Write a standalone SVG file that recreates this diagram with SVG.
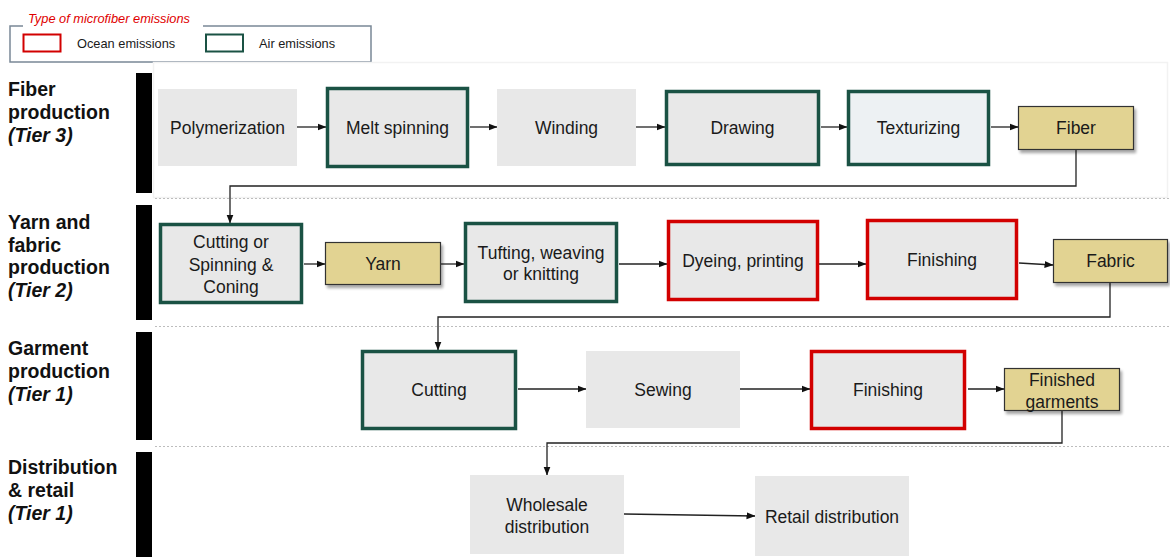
<svg xmlns="http://www.w3.org/2000/svg" width="1170" height="557" viewBox="0 0 1170 557">
<defs>
<marker id="ah" markerWidth="9" markerHeight="8" refX="8.5" refY="4" orient="auto" markerUnits="userSpaceOnUse">
<path d="M0,0.5 L9,4 L0,7.5 z" fill="#111"/>
</marker>
<filter id="sh" x="-10%" y="-10%" width="130%" height="140%">
<feGaussianBlur in="SourceAlpha" stdDeviation="1.5"/>
<feOffset dx="2" dy="3" result="b"/>
<feComponentTransfer><feFuncA type="linear" slope="0.35"/></feComponentTransfer>
<feMerge><feMergeNode/><feMergeNode in="SourceGraphic"/></feMerge>
</filter>
<style>
text{font-family:"Liberation Sans",Arial,sans-serif;fill:#1a1a1a}
.n{font-size:17.5px;text-anchor:middle}
.lbl{font-size:19.5px;font-weight:bold;fill:#111}
.it{font-style:italic}
.plain{fill:#e8e8e8}
.air{fill:#e8e8e8;stroke:#1a5244;stroke-width:3.5}
.ocean{fill:#e8e8e8;stroke:#d20000;stroke-width:3.5}
.tan{fill:#e2d392;stroke:#333;stroke-width:1.2;filter:url(#sh)}
.bar{fill:#000}
.sep{stroke:#bdbdbd;stroke-width:1;stroke-dasharray:2,2}
.c{fill:none;stroke:#222;stroke-width:1.3}
</style>
</defs>
<rect width="1170" height="557" fill="#fff"/>

<g id="legend">
<path d="M23,26 H10 V62 H371 V26 H203" fill="none" stroke="#7a8896" stroke-width="1.5"/>
<text x="28" y="23" font-size="12.8px" font-style="italic" style="fill:#e00000">Type of microfiber emissions</text>
<rect x="23.5" y="34.5" width="37" height="17" fill="none" stroke="#d20000" stroke-width="2"/>
<text x="77" y="48" font-size="12.8px">Ocean emissions</text>
<rect x="206" y="34.5" width="37" height="17" fill="none" stroke="#1a5244" stroke-width="2"/>
<text x="259" y="48" font-size="12.8px">Air emissions</text>
</g>

<g id="panels">
<rect x="153.5" y="62.5" width="1014" height="135" fill="none" stroke="#f2f2f2" stroke-width="1.5"/>
<line class="sep" x1="155" y1="198.5" x2="1170" y2="198.5"/>
<line class="sep" x1="155" y1="326.5" x2="1170" y2="326.5"/>
<line class="sep" x1="155" y1="446.5" x2="1170" y2="446.5"/>
</g>

<g id="tier-labels">
<rect class="bar" x="136" y="73" width="16" height="120"/>
<rect class="bar" x="136" y="205" width="16" height="115"/>
<rect class="bar" x="136" y="332" width="16" height="108"/>
<rect class="bar" x="136" y="452" width="16" height="105"/>
<text class="lbl" x="8" y="96">Fiber</text>
<text class="lbl" x="8" y="119">production</text>
<text class="lbl it" x="8" y="142">(Tier 3)</text>
<text class="lbl" x="8" y="229">Yarn and</text>
<text class="lbl" x="8" y="252">fabric</text>
<text class="lbl" x="8" y="274">production</text>
<text class="lbl it" x="8" y="297">(Tier 2)</text>
<text class="lbl" x="8" y="355">Garment</text>
<text class="lbl" x="8" y="378">production</text>
<text class="lbl it" x="8" y="401">(Tier 1)</text>
<text class="lbl" x="8" y="474">Distribution</text>
<text class="lbl" x="8" y="497">&amp; retail</text>
<text class="lbl it" x="8" y="520">(Tier 1)</text>
</g>

<g id="connectors">
<line class="c" x1="297" y1="127" x2="326" y2="127" marker-end="url(#ah)"/>
<line class="c" x1="470" y1="127" x2="497" y2="127" marker-end="url(#ah)"/>
<line class="c" x1="636" y1="127" x2="665" y2="127" marker-end="url(#ah)"/>
<line class="c" x1="821" y1="127" x2="847" y2="127" marker-end="url(#ah)"/>
<line class="c" x1="991" y1="127" x2="1018" y2="127" marker-end="url(#ah)"/>
<path class="c" d="M1076,149 V186 H230 V223" marker-end="url(#ah)"/>
<line class="c" x1="304" y1="264" x2="325" y2="264" marker-end="url(#ah)"/>
<line class="c" x1="441" y1="264" x2="464" y2="264" marker-end="url(#ah)"/>
<line class="c" x1="619" y1="264" x2="667" y2="264" marker-end="url(#ah)"/>
<line class="c" x1="819" y1="264" x2="866" y2="264" marker-end="url(#ah)"/>
<line class="c" x1="1019" y1="263" x2="1053" y2="265" marker-end="url(#ah)"/>
<path class="c" d="M1110,283 V317 H438 V350" marker-end="url(#ah)"/>
<line class="c" x1="518" y1="389" x2="586" y2="389" marker-end="url(#ah)"/>
<line class="c" x1="740" y1="389" x2="810" y2="389" marker-end="url(#ah)"/>
<line class="c" x1="968" y1="389" x2="1004" y2="389" marker-end="url(#ah)"/>
<path class="c" d="M1062,411 V443 H547 V475" marker-end="url(#ah)"/>
<line class="c" x1="624" y1="514" x2="755" y2="516" marker-end="url(#ah)"/>
</g>

<g id="polymerization"><rect class="plain" x="158" y="89" width="139" height="77"/><text class="n" x="227.5" y="134">Polymerization</text></g>
<g id="melt-spinning"><rect class="air" x="327.5" y="88.5" width="140" height="78"/><text class="n" x="397.5" y="134">Melt spinning</text></g>
<g id="winding"><rect class="plain" x="497" y="89" width="139" height="77"/><text class="n" x="566.5" y="134">Winding</text></g>
<g id="drawing"><rect class="air" x="666.5" y="91.5" width="152" height="73"/><text class="n" x="742.5" y="134">Drawing</text></g>
<g id="texturizing"><rect class="air" x="848.5" y="91.5" width="140" height="73" style="fill:#edf1f3"/><text class="n" x="918.5" y="134">Texturizing</text></g>
<g id="fiber"><rect class="tan" x="1018.5" y="106.5" width="115" height="43"/><text class="n" x="1076" y="134">Fiber</text></g>

<g id="cutting-spinning"><rect class="air" x="160.5" y="224.5" width="141" height="78"/><text class="n" x="231" y="248">Cutting or</text><text class="n" x="231" y="271">Spinning &amp;</text><text class="n" x="231" y="293">Coning</text></g>
<g id="yarn"><rect class="tan" x="325.5" y="242.5" width="115" height="42"/><text class="n" x="383" y="270">Yarn</text></g>
<g id="tufting"><rect class="air" x="465.5" y="223.5" width="151" height="78"/><text class="n" x="541" y="259">Tufting, weaving</text><text class="n" x="541" y="280">or knitting</text></g>
<g id="dyeing"><rect class="ocean" x="668.5" y="221.5" width="149" height="78"/><text class="n" x="743" y="267">Dyeing, printing</text></g>
<g id="finishing-fabric"><rect class="ocean" x="867.5" y="220.5" width="149" height="78"/><text class="n" x="942" y="266">Finishing</text></g>
<g id="fabric"><rect class="tan" x="1053.5" y="239.5" width="114" height="43"/><text class="n" x="1110.5" y="267">Fabric</text></g>

<g id="cutting"><rect class="air" x="362.5" y="351.5" width="153" height="77"/><text class="n" x="439" y="396">Cutting</text></g>
<g id="sewing"><rect class="plain" x="586" y="351" width="154" height="77"/><text class="n" x="663" y="396">Sewing</text></g>
<g id="finishing-garment"><rect class="ocean" x="811.5" y="351.5" width="153" height="77"/><text class="n" x="888" y="396">Finishing</text></g>
<g id="finished-garments"><rect class="tan" x="1004.5" y="368.5" width="115" height="42"/><text class="n" x="1062" y="386">Finished</text><text class="n" x="1062" y="408">garments</text></g>

<g id="wholesale"><rect class="plain" x="470" y="475" width="154" height="79"/><text class="n" x="547" y="511">Wholesale</text><text class="n" x="547" y="533">distribution</text></g>
<g id="retail"><rect class="plain" x="755" y="476" width="154" height="80"/><text class="n" x="832" y="523">Retail distribution</text></g>
</svg>
